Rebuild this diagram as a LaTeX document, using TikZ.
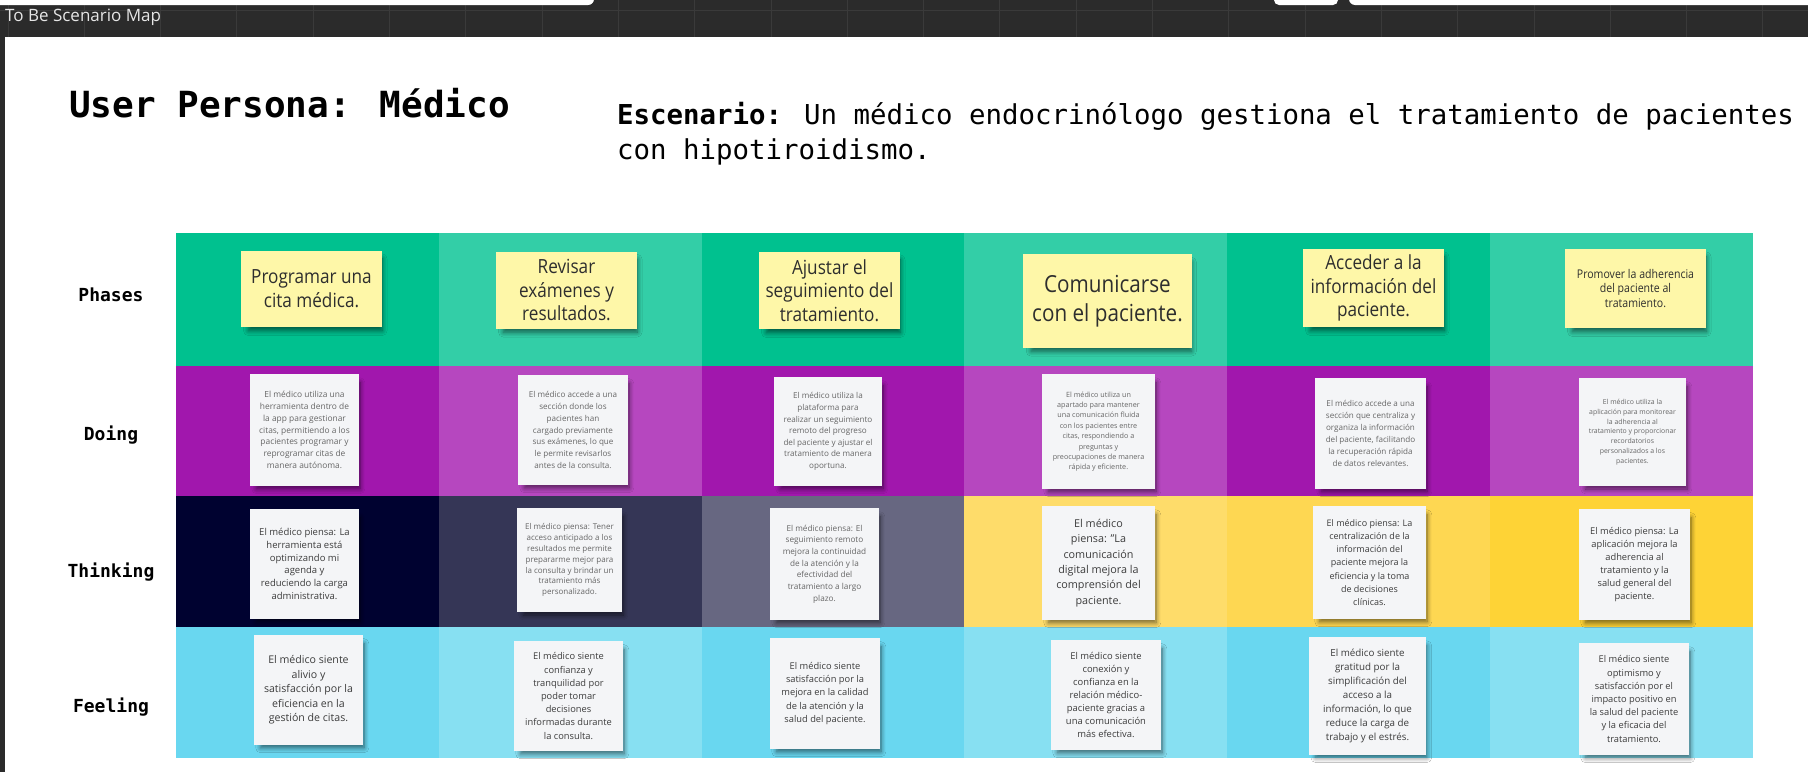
\documentclass[tikz,border=0pt]{standalone}
\usepackage{fontspec}
\setmainfont{Open Sans}
\newfontfamily\condfont{Open Sans}[FakeStretch=0.88]
\newfontfamily\monofont{DejaVu Sans Mono}
\usetikzlibrary{shadows.blur}
\newcommand\myfs[2]{\fontsize{#1}{#2}\selectfont}
\definecolor{barbg}{HTML}{2B2B2B}
\definecolor{barln}{HTML}{3A3A3A}
\definecolor{bartx}{HTML}{E6E6E6}
\definecolor{phA}{HTML}{00C18F}
\definecolor{phB}{HTML}{33CEA7}
\definecolor{doA}{HTML}{A117AD}
\definecolor{doB}{HTML}{B647BF}
\definecolor{thA}{HTML}{000230}
\definecolor{thB}{HTML}{353656}
\definecolor{thC}{HTML}{676781}
\definecolor{thD}{HTML}{FEDC6A}
\definecolor{thE}{HTML}{FED752}
\definecolor{thF}{HTML}{FED336}
\definecolor{feA}{HTML}{69D7F0}
\definecolor{feB}{HTML}{87E0F2}
\definecolor{stickyc}{HTML}{FEF7A8}
\definecolor{cardc}{HTML}{F4F5F7}
\definecolor{phtext}{HTML}{2E2E2E}
\definecolor{dotext}{HTML}{666666}
\definecolor{cardtext}{HTML}{3C3C3C}
\tikzset{
  noteshadow/.style={blur shadow={shadow xshift=4pt, shadow yshift=-6pt, shadow opacity=55, shadow blur radius=5pt, shadow blur steps=8, shadow scale=0.95}},
  sticky/.style={fill=stickyc, inner sep=0pt, align=center, text=phtext, noteshadow},
  card/.style={fill=cardc, inner sep=0pt, align=center, text=cardtext, noteshadow},
  docard/.style={card, text=dotext},
  rowlabel/.style={font=\monofont\bfseries\myfs{18}{22}, text=black},
  barline/.style={draw=barln, line width=1pt}
}
\begin{document}
\begin{tikzpicture}[x=1pt,y=-1pt]
\useasboundingbox (0,0) rectangle (1808,772);
\fill[white] (0,0) rectangle (1808,772);
% top bar
\fill[barbg] (0,0) rectangle (1808,37);
\foreach \k in {0,...,23} \draw[barline] ({8+76.3*\k},0) -- ({8+76.3*\k},37);
\draw[barline] (0,10) -- (1808,10);
\fill[white, rounded corners=6pt] (-10,-10) rectangle (594,5);
\fill[white, rounded corners=5pt] (1274,-10) rectangle (1338,5);
\fill[white, rounded corners=6pt] (1349,-10) rectangle (1818,5);
\node[anchor=west, font=\myfs{17}{19}, text=bartx, inner sep=0pt] (maptitle) at (5,17) {To Be Scenario Map};
\fill[barbg] (0,37) rectangle (5,772);
% titles
\node[anchor=base west, inner sep=0pt, font=\monofont\bfseries\myfs{36}{43}] (title) at (69,117) {User Persona: Médico};
\node[anchor=base west, inner sep=0pt, font=\monofont\myfs{27.4}{36}] (scen1) at (617,124) {\textbf{Escenario:} Un médico endocrinólogo gestiona el tratamiento de pacientes};
\node[anchor=base west, inner sep=0pt, font=\monofont\myfs{27.4}{36}] (scen2) at (617,159) {con hipotiroidismo.};
% grid
\foreach \c [count=\i from 0] in {phA,phB,phA,phB,phA,phB}
  \fill[\c] ({176+262.8*\i},233) rectangle ({176+262.8*(\i+1)},366);
\foreach \c [count=\i from 0] in {doA,doB,doA,doB,doA,doB}
  \fill[\c] ({176+262.8*\i},366) rectangle ({176+262.8*(\i+1)},496);
\foreach \c [count=\i from 0] in {thA,thB,thC,thD,thE,thF}
  \fill[\c] ({176+262.8*\i},496) rectangle ({176+262.8*(\i+1)},627);
\foreach \c [count=\i from 0] in {feA,feB,feA,feB,feA,feB}
  \fill[\c] ({176+262.8*\i},627) rectangle ({176+262.8*(\i+1)},758);
% row labels
\node[rowlabel] (lphases) at (111,295) {Phases};
\node[rowlabel] (ldoing) at (111,435) {Doing};
\node[rowlabel] (lthink) at (111,572) {Thinking};
\node[rowlabel] (lfeel) at (111,707) {Feeling};
% phases
\node[sticky, minimum width=141pt, minimum height=76pt, font=\condfont\myfs{19.5}{24}] (p1) at (311.5,289) {Programar una\\cita médica.};
\node[sticky, minimum width=141pt, minimum height=77pt, font=\condfont\myfs{19.5}{23.5}] (p2) at (566.5,290) {Revisar\\exámenes y\\resultados.};
\node[sticky, minimum width=141pt, minimum height=77pt, font=\condfont\myfs{19.5}{23.5}] (p3) at (829.5,290.5) {Ajustar el\\seguimiento del\\tratamiento.};
\node[sticky, minimum width=169pt, minimum height=94pt, font=\condfont\myfs{23.5}{29.5}] (p4) at (1107.5,301) {Comunicarse\\con el paciente.};
\node[sticky, minimum width=141pt, minimum height=78pt, font=\condfont\myfs{19.5}{23.5}] (p5) at (1373.5,288) {Acceder a la\\información del\\paciente.};
\node[sticky, minimum width=141pt, minimum height=79pt, font=\condfont\myfs{12}{14.3}] (p6) at (1635.5,288.5) {Promover la adherencia\\del paciente al\\tratamiento.};
% doing
\node[docard, minimum width=109pt, minimum height=112pt, font=\myfs{8.4}{11.8}] (d1) at (304.5,430) {El médico utiliza una\\herramienta dentro de\\la app para gestionar\\citas, permitiendo a los\\pacientes programar y\\reprogramar citas de\\manera autónoma.};
\node[docard, minimum width=110pt, minimum height=110pt, font=\myfs{8.1}{11.9}] (d2) at (573,430) {El médico accede a una\\sección donde los\\pacientes han\\cargado previamente\\sus exámenes, lo que\\le permite revisarlos\\antes de la consulta.};
\node[docard, minimum width=108pt, minimum height=109pt, font=\myfs{8.1}{11.6}] (d3) at (828,431.5) {El médico utiliza la\\plataforma para\\realizar un seguimiento\\remoto del progreso\\del paciente y ajustar el\\tratamiento de manera\\oportuna.};
\node[docard, minimum width=113pt, minimum height=115pt, font=\myfs{7.2}{10.4}] (d4) at (1098.5,431.5) {El médico utiliza un\\apartado para mantener\\una comunicación fluida\\con los pacientes entre\\citas, respondiendo a\\preguntas y\\preocupaciones de manera\\rápida y eficiente.};
\node[docard, minimum width=111pt, minimum height=111pt, font=\myfs{8.1}{12}] (d5) at (1370.5,433.5) {El médico accede a una\\sección que centraliza y\\organiza la información\\del paciente, facilitando\\la recuperación rápida\\de datos relevantes.};
\node[docard, minimum width=107pt, minimum height=108pt, font=\myfs{6.9}{9.8}] (d6) at (1632.5,432) {El médico utiliza la\\aplicación para monitorear\\la adherencia al\\tratamiento y proporcionar\\recordatorios\\personalizados a los\\pacientes.};
% thinking
\node[card, minimum width=109pt, minimum height=110pt, font=\myfs{9.5}{12.8}] (t1) at (304.5,564) {El médico piensa: La\\herramienta está\\optimizando mi\\agenda y\\reduciendo la carga\\administrativa.};
\node[docard, minimum width=105pt, minimum height=104pt, font=\myfs{8.0}{10.9}] (t2) at (569.5,560) {El médico piensa: Tener\\acceso anticipado a los\\resultados me permite\\prepararme mejor para\\la consulta y brindar un\\tratamiento más\\personalizado.};
\node[docard, minimum width=109pt, minimum height=112pt, font=\myfs{8.2}{11.7}] (t3) at (824.5,564) {El médico piensa: El\\seguimiento remoto\\mejora la continuidad\\de la atención y la\\efectividad del\\tratamiento a largo\\plazo.};
\node[card, minimum width=113pt, minimum height=114pt, font=\myfs{10.8}{15.3}] (t4) at (1098.5,563) {El médico\\piensa: "La\\comunicación\\digital mejora la\\comprensión del\\paciente.};
\node[card, minimum width=113pt, minimum height=113pt, font=\myfs{9.0}{13.2}] (t5) at (1369.5,562.5) {El médico piensa: La\\centralización de la\\información del\\paciente mejora la\\eficiencia y la toma\\de decisiones\\clínicas.};
\node[card, minimum width=111pt, minimum height=111pt, font=\myfs{9.3}{12.9}] (t6) at (1634.5,564.5) {El médico piensa: La\\aplicación mejora la\\adherencia al\\tratamiento y la\\salud general del\\paciente.};
% feeling
\node[card, minimum width=109pt, minimum height=110pt, font=\myfs{10.6}{14.6}] (f1) at (308.5,690) {El médico siente\\alivio y\\satisfacción por la\\eficiencia en la\\gestión de citas.};
\node[card, minimum width=109pt, minimum height=110pt, font=\myfs{9.3}{13.2}] (f2) at (568.5,696) {El médico siente\\confianza y\\tranquilidad por\\poder tomar\\decisiones\\informadas durante\\la consulta.};
\node[card, minimum width=110pt, minimum height=111pt, font=\myfs{9.3}{13.1}] (f3) at (825,693.5) {El médico siente\\satisfacción por la\\mejora en la calidad\\de la atención y la\\salud del paciente.};
\node[card, minimum width=110pt, minimum height=110pt, font=\myfs{9.4}{12.9}] (f4) at (1106,695) {El médico siente\\conexión y\\confianza en la\\relación médico-\\paciente gracias a\\una comunicación\\más efectiva.};
\node[card, minimum width=117pt, minimum height=118pt, font=\myfs{9.8}{13.9}] (f5) at (1367.5,696) {El médico siente\\gratitud por la\\simplificación del\\acceso a la\\información, lo que\\reduce la carga de\\trabajo y el estrés.};
\node[card, minimum width=110pt, minimum height=112pt, font=\myfs{9.3}{13.2}] (f6) at (1634,699) {El médico siente\\optimismo y\\satisfacción por el\\impacto positivo en\\la salud del paciente\\y la eficacia del\\tratamiento.};
\end{tikzpicture}
\end{document}
